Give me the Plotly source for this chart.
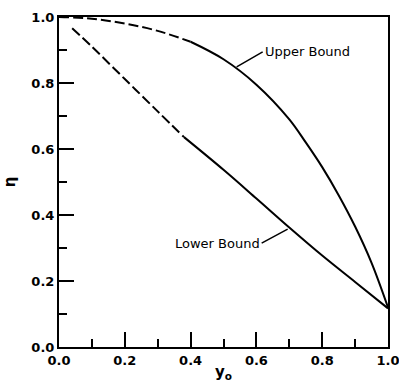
import plotly.graph_objects as go

# Data
upper_x = [0.0, 0.1, 0.2, 0.3, 0.4, 0.5, 0.6, 0.7, 0.75, 0.8, 0.85, 0.9, 0.95, 1.0]
upper_eta = [1.0, 0.995, 0.98, 0.958, 0.925, 0.872, 0.795, 0.69, 0.62, 0.545, 0.46, 0.365, 0.255, 0.12]
upper_dash_end = 4  # index where the dashed part ends

lower_x = [0.04, 0.1, 0.2, 0.3, 0.38, 0.5, 0.6, 0.7, 0.8, 0.9, 1.0]
lower_eta = [0.966, 0.91, 0.812, 0.714, 0.636, 0.537, 0.45, 0.362, 0.277, 0.197, 0.117]
lower_dash_end = 4

tick_vals = [0.0, 0.2, 0.4, 0.6, 0.8, 1.0]
tick_text = ["0.0", "0.2", "0.4", "0.6", "0.8", "1.0"]

line = dict(color="black", width=2)
dash_line = dict(color="black", width=2, dash="10px,4px")

fig = go.Figure()
fig.add_trace(go.Scatter(x=upper_x[:upper_dash_end + 1], y=upper_eta[:upper_dash_end + 1],
                         mode="lines", line=dash_line, line_shape="spline", cliponaxis=False))
fig.add_trace(go.Scatter(x=upper_x[upper_dash_end:], y=upper_eta[upper_dash_end:],
                         mode="lines", line=line, line_shape="spline", cliponaxis=False))
fig.add_trace(go.Scatter(x=lower_x[:lower_dash_end + 1], y=lower_eta[:lower_dash_end + 1],
                         mode="lines", line=dash_line, line_shape="spline", cliponaxis=False))
fig.add_trace(go.Scatter(x=lower_x[lower_dash_end:], y=lower_eta[lower_dash_end:],
                         mode="lines", line=line, line_shape="spline", cliponaxis=False))

font = dict(family="DejaVu Sans, sans-serif", size=13, color="black")
tickfont = dict(family="DejaVu Sans, sans-serif", size=13, color="black", weight="bold")

axis_common = dict(
    range=[0, 1], tickvals=tick_vals, ticktext=tick_text,
    ticks="inside", ticklen=15, tickwidth=1.5, tickcolor="black",
    minor=dict(ticks="inside", ticklen=8, tickwidth=1.5, tickcolor="black", dtick=0.1, tick0=0),
    showline=True, linecolor="black", linewidth=2, mirror=True,
    showgrid=False, zeroline=False, tickfont=tickfont, automargin=False,
    ticklabeloverflow="allow",
)

fig.update_layout(
    width=399, height=388,
    margin=dict(l=59, r=11, t=17, b=41),
    paper_bgcolor="white", plot_bgcolor="white",
    showlegend=False, font=font,
    xaxis=dict(**axis_common, title=dict(text="y<sub>o</sub>", font=dict(size=15, weight="bold"), standoff=0)),
    yaxis=dict(**axis_common, title=dict(text="η", font=dict(size=15, weight="bold"), standoff=12)),
)

fig.add_annotation(x=0.54, y=0.849, xref="x", yref="y", text="Upper Bound",
                   showarrow=True, arrowhead=0, arrowwidth=1.5, arrowcolor="black",
                   ax=26, ay=-15, xanchor="left", font=dict(size=13))
fig.add_annotation(x=0.695, y=0.357, xref="x", yref="y", text="Lower Bound",
                   showarrow=True, arrowhead=0, arrowwidth=1.5, arrowcolor="black",
                   ax=-26, ay=14, xanchor="right", font=dict(size=13))

# remove the default page margin and scrollbars so the figure fills the window exactly
fig.write_html("out.html", config={"displayModeBar": False},
               post_script="document.body.style.margin='0';document.body.style.overflow='hidden';")
